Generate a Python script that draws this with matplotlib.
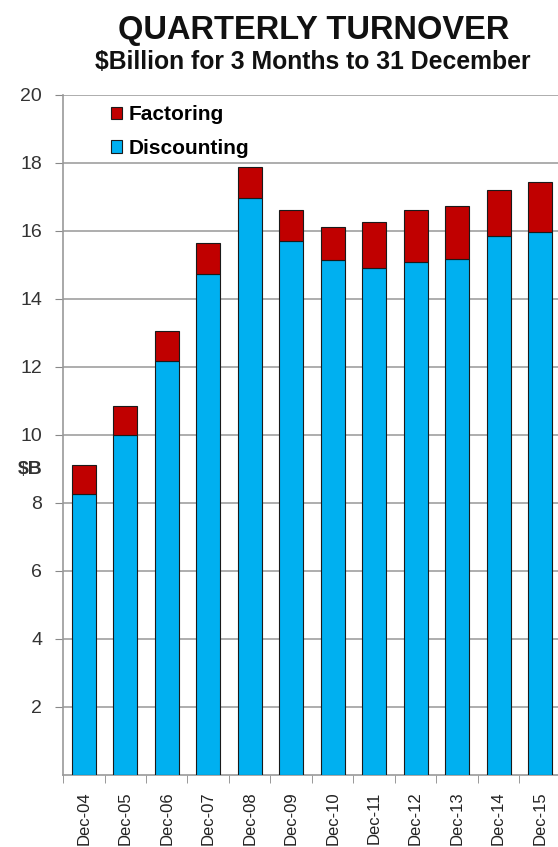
import numpy as np
import matplotlib.pyplot as plt

plt.rcParams['font.family'] = ['Liberation Sans', 'DejaVu Sans']

# $B for the December quarter
years = ['Dec-04', 'Dec-05', 'Dec-06', 'Dec-07', 'Dec-08', 'Dec-09',
         'Dec-10', 'Dec-11', 'Dec-12', 'Dec-13', 'Dec-14', 'Dec-15']
discounting = [8.25, 10.0, 12.17, 14.73, 16.96, 15.7,
               15.14, 14.92, 15.08, 15.17, 15.84, 15.97]
total = [9.13, 10.85, 13.06, 15.64, 17.88, 16.6,
         16.1, 16.25, 16.62, 16.73, 17.19, 17.43]
factoring = [t - d for t, d in zip(total, discounting)]

blue = '#00B0F0'
red = '#C00000'

fig = plt.figure(figsize=(5.58, 8.47), dpi=100)
ax = fig.add_axes([0.113, 0.085, 0.892, 0.803])

x = np.arange(len(years))
ax.bar(x, discounting, width=0.58, color=blue, edgecolor='#1a1a1a',
       linewidth=0.8, label='Discounting', zorder=3)
ax.bar(x, factoring, width=0.58, bottom=discounting, color=red,
       edgecolor='#1a1a1a', linewidth=0.8, label='Factoring', zorder=3)

ax.set_xlim(-0.5, len(years) - 0.5)
ax.set_ylim(0, 20)
ax.set_yticks(range(2, 21, 2))
ax.tick_params(axis='y', labelsize=14, length=6, color='#888888',
               labelcolor='#333333', pad=9)
ax.yaxis.grid(True, color='#a0a0a0', linewidth=1.2, zorder=0)

ax.set_xticks(x)
ax.set_xticklabels(years, rotation=90, fontsize=12, color='#222222')
ax.tick_params(axis='x', length=0, pad=12)
ax.set_xticks(np.arange(-0.5, len(years)), minor=True)
ax.tick_params(axis='x', which='minor', length=6, color='#888888')

for side in ['top', 'right']:
    ax.spines[side].set_visible(False)
for side in ['left', 'bottom']:
    ax.spines[side].set_color('#999999')
    ax.spines[side].set_linewidth(1.2)

ax.set_ylabel(r'\$B', rotation=0, fontsize=14, fontweight='bold',
              color='#333333', va='center', ha='center')
ax.yaxis.set_label_coords(-0.066, 0.449)

handles, labels = ax.get_legend_handles_labels()
leg = ax.legend(handles[::-1], labels[::-1], loc='upper left',
                bbox_to_anchor=(0.058, 1.012), frameon=False, fontsize=15,
                handlelength=0.55, handleheight=0.55, handletextpad=0.3,
                labelspacing=0.68)
for t in leg.get_texts():
    t.set_fontweight('bold')

fig.text(0.563, 0.964, 'QUARTERLY TURNOVER', ha='center', va='center',
         fontsize=23.5, fontweight='bold', color='#111111')
fig.text(0.561, 0.927, r'\$Billion for 3 Months to 31 December', ha='center',
         va='center', fontsize=17.8, fontweight='bold', color='#111111')

fig.savefig('out.png', dpi=100)
